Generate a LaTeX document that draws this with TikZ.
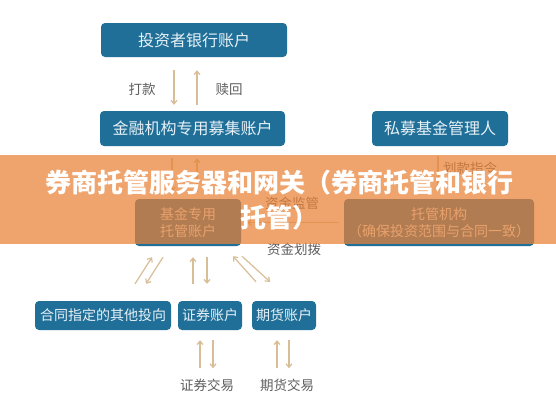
\documentclass[tikz,border=0pt]{standalone}
\usepackage{fontspec}
\newfontfamily\cjk{Noto Sans CJK SC}
\usetikzlibrary{arrows.meta}
\definecolor{boxblue}{HTML}{1F6F98}
\definecolor{boxtext}{HTML}{E8F1F7}
\definecolor{arrowtan}{HTML}{D8BE96}
\definecolor{labelgrey}{HTML}{5E5E5E}
\definecolor{bannerorange}{HTML}{EA8236}
\tikzset{
  acct/.style={draw=none, fill=boxblue, rounded corners=4pt, text=boxtext, inner sep=0pt,
    font=\cjk\fontsize{16}{18}\selectfont, align=center},
  acctsmall/.style={acct, font=\cjk\fontsize{14}{17}\selectfont},
  flow/.style={draw=arrowtan, line width=1.2pt, -{Straight Barb[length=3.5pt,width=6pt]}},
  lbl/.style={text=labelgrey, inner sep=0pt, font=\cjk\fontsize{13.5}{16}\selectfont},
}
\begin{document}
\begin{tikzpicture}[x=1pt, y=-1pt]
\useasboundingbox (0,0) rectangle (556,400);
\fill[white] (0,0) rectangle (556,400);

% boxes
\node[acct, minimum width=186pt, minimum height=34pt] (inv) at (194,40) {投资者银行账户};
\node[acct, minimum width=185pt, minimum height=35pt] (raise) at (192.5,128.5) {金融机构专用募集账户};
\node[acct, minimum width=136pt, minimum height=35pt] (mgr) at (440,128.5) {私募基金管理人};
\node[acctsmall, minimum width=106pt, minimum height=47pt] (cust) at (188,222.5) {基金专用\\托管账户};
\node[acctsmall, minimum width=190pt, minimum height=47pt] (trust) at (439,222.5) {托管机构\\（确保投资范围与合同一致）};
\node[acctsmall, minimum width=136pt, minimum height=29pt] (other) at (103,315.5) {合同指定的其他投向};
\node[acctsmall, minimum width=64pt, minimum height=29pt] (sec) at (210,315.5) {证券账户};
\node[acctsmall, minimum width=64pt, minimum height=29pt] (fut) at (284,315.5) {期货账户};

% labels
\node[lbl] (pay) at (142,89) {打款};
\node[lbl] (redeem) at (229,89) {赎回};
\node[lbl] (order) at (470,168) {划款指令};
\node[lbl] (super) at (292,203) {资金监管};
\node[lbl] (transfer) at (294,249) {资金划拨};
\node[lbl] (sectrade) at (207,385) {证券交易};
\node[lbl] (futtrade) at (287,385) {期货交易};

% top arrows
\draw[flow] ([shift={(-20,13)}]inv.south) -- ([shift={(-18.5,-6)}]raise.north);
\draw[flow] ([shift={(4.5,-6)}]raise.north) -- ([shift={(3,13)}]inv.south);

% raise <-> cust
\draw[flow] ([shift={(-20.5,12)}]raise.south) -- ([shift={(-16,-7)}]cust.north);
\draw[flow] ([shift={(9,-7)}]cust.north) -- ([shift={(4.5,12)}]raise.south);

% mgr -> trust
\draw[flow] ([shift={(-2,10)}]mgr.south) -- ([shift={(-1,-7)}]trust.north);

% trust -> cust
\draw[flow] ([shift={(-6,0)}]trust.west) -- ([shift={(6,0)}]cust.east);

% cust <-> lower boxes
\draw[flow] ([shift={(32,-17)}]other.north) -- ([shift={(-36,11)}]cust.south);
\draw[flow] ([shift={(-25,11)}]cust.south) -- ([shift={(43,-17)}]other.north);
\draw[flow] ([shift={(-17,-17)}]sec.north) -- ([shift={(5,11)}]cust.south);
\draw[flow] ([shift={(19,11)}]cust.south) -- ([shift={(-3,-17)}]sec.north);
\draw[flow] ([shift={(-28,-19)}]fut.north) -- ([shift={(45,10)}]cust.south);
\draw[flow] ([shift={(54,10)}]cust.south) -- ([shift={(-14,-19)}]fut.north);

% trading arrows
\draw[flow] ([shift={(-10,38)}]sec.south) -- ([shift={(-10,10)}]sec.south);
\draw[flow] ([shift={(3,10)}]sec.south) -- ([shift={(3,38)}]sec.south);
\draw[flow] ([shift={(-7,38)}]fut.south) -- ([shift={(-7,10)}]fut.south);
\draw[flow] ([shift={(5,10)}]fut.south) -- ([shift={(5,38)}]fut.south);

% banner
\fill[bannerorange, fill opacity=0.72] (0,155) rectangle (556,244);
\node[text=white, align=center, inner sep=0pt, font=\cjk\bfseries\fontsize{26}{35}\selectfont] (banner) at (279,200.5)
  {券商托管服务器和网关（券商托管和银行\\托管）};
\end{tikzpicture}
\end{document}
